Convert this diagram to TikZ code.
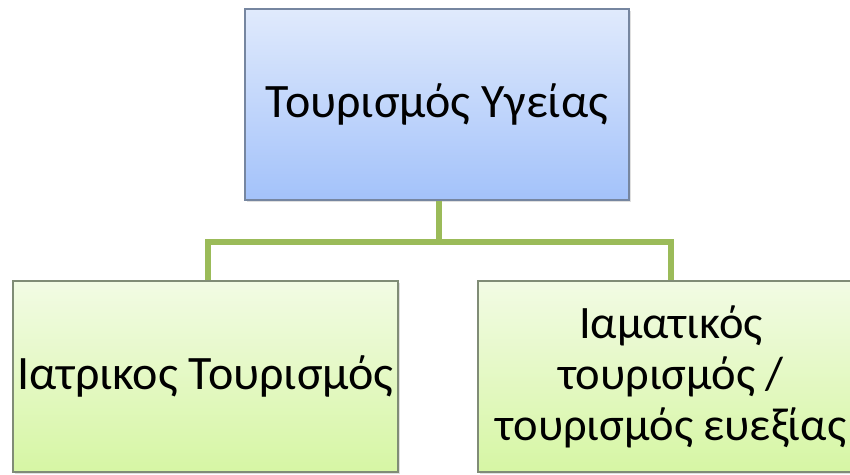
\documentclass[tikz,border=0pt]{standalone}
\usepackage{fontspec}
\setmainfont{Carlito}
\usetikzlibrary{shadows}
\definecolor{blueTop}{RGB}{224,234,252}
\definecolor{blueBot}{RGB}{163,194,250}
\definecolor{blueEdge}{RGB}{118,134,160}
\definecolor{greenTop}{RGB}{242,251,228}
\definecolor{greenBot}{RGB}{214,246,164}
\definecolor{greenEdge}{RGB}{128,140,118}
\definecolor{linkGreen}{RGB}{155,187,89}
\tikzset{
  box/.style={rectangle, draw, line width=1.2pt, inner sep=0pt,
    font=\fontsize{48}{51}\selectfont, align=center,
    drop shadow={opacity=0.25, shadow xshift=1.5pt, shadow yshift=-2pt}},
  rootbox/.style={box, draw=blueEdge, top color=blueTop, bottom color=blueBot},
  leafbox/.style={box, draw=greenEdge, top color=greenTop, bottom color=greenBot},
  link/.style={draw=linkGreen, line width=5.5pt}
}
\begin{document}
\begin{tikzpicture}[x=1pt,y=-1pt]
  \clip (0,0) rectangle (850,474);
  \fill[white] (0,0) rectangle (850,474);
  \coordinate (hub) at (439,242);
  % root and the two branches
  \node[rootbox, minimum width=384pt, minimum height=191pt] (root) at (437,104.5) {Τουρισμός Υγείας};
  \node[leafbox, minimum width=385pt, minimum height=191pt] (med) at (205.5,376.5) {Ιατρικος Τουρισμός};
  \node[leafbox, minimum width=386pt, minimum height=191pt,
        font=\fontsize{46.5}{51}\selectfont] (spa) at (671,376.5)
    {Ιαματικός\\τουρισμός /\\τουρισμός ευεξίας};
  % hierarchy links
  \draw[link] (root.south -| hub) -- (hub);
  \draw[link] (med.north) ++(2.5pt,0) coordinate (medtop) -- (medtop |- hub) -- (hub -| spa.north) -- (spa.north);
\end{tikzpicture}
\end{document}
